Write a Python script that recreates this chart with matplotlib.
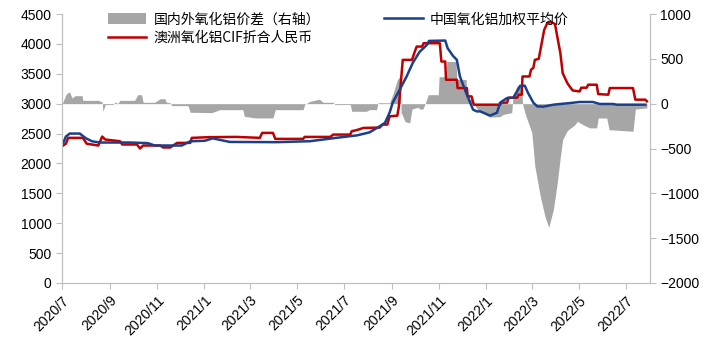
import matplotlib
matplotlib.use("Agg")
import matplotlib.pyplot as plt
import pandas as pd

plt.rcParams['font.family'] = ['Liberation Sans', 'Noto Sans CJK SC', 'DejaVu Sans']

# 中国氧化铝加权平均价 (left axis)
cn_dates = ['2020-07-01', '2020-07-06', '2020-07-11', '2020-07-24', '2020-08-01', '2020-08-09',
            '2020-08-19', '2020-09-27', '2020-10-20', '2020-10-29', '2020-12-03', '2020-12-14',
            '2021-01-02', '2021-01-12', '2021-02-03', '2021-04-05', '2021-05-18', '2021-06-22',
            '2021-07-18', '2021-08-03', '2021-08-16', '2021-08-23', '2021-08-29', '2021-09-02',
            '2021-09-11', '2021-09-20', '2021-09-28', '2021-10-07', '2021-10-16', '2021-10-19',
            '2021-11-09', '2021-11-12', '2021-11-19', '2021-11-24', '2021-11-28', '2021-12-07',
            '2021-12-15', '2021-12-20', '2021-12-24', '2022-01-06', '2022-01-15', '2022-01-19',
            '2022-01-28', '2022-02-05', '2022-02-10', '2022-02-14', '2022-02-20', '2022-02-24',
            '2022-03-03', '2022-03-08', '2022-03-16', '2022-03-29', '2022-04-20', '2022-05-02',
            '2022-05-19', '2022-05-28', '2022-06-14', '2022-06-19', '2022-07-26']
cn_price = [2290, 2450, 2500, 2500, 2420, 2370,
            2350, 2350, 2340, 2300, 2300, 2370,
            2380, 2420, 2360, 2356, 2372, 2430,
            2470, 2520, 2620, 2680, 2850, 3017,
            3233, 3455, 3683, 3870, 3980, 4050,
            4056, 3930, 3800, 3733, 3455, 3150,
            2900, 2870, 2872, 2800, 2850, 3017,
            3094, 3100, 3205, 3300, 3300, 3183,
            3017, 2955, 2950, 2983, 3011, 3028,
            3028, 2995, 2995, 2983, 2983]

# 澳洲氧化铝CIF折合人民币 (left axis)
au_dates = ['2020-07-01', '2020-07-06', '2020-07-09', '2020-07-28', '2020-08-02', '2020-08-17',
            '2020-08-22', '2020-08-26', '2020-09-14', '2020-09-17', '2020-10-06', '2020-10-10',
            '2020-10-14', '2020-11-05', '2020-11-09', '2020-11-18', '2020-11-27', '2020-12-14',
            '2020-12-16', '2021-01-08', '2021-02-12', '2021-03-14', '2021-03-17', '2021-03-31',
            '2021-04-03', '2021-05-09', '2021-05-11', '2021-06-13', '2021-06-17', '2021-07-09',
            '2021-07-11', '2021-07-18', '2021-07-26', '2021-08-16', '2021-08-20', '2021-08-26',
            '2021-08-29', '2021-09-08', '2021-09-10', '2021-09-15', '2021-09-27', '2021-09-30',
            '2021-10-03', '2021-10-10', '2021-10-12', '2021-11-02', '2021-11-04', '2021-11-09',
            '2021-11-10', '2021-11-24', '2021-11-25', '2021-12-07', '2021-12-08', '2021-12-13',
            '2021-12-16', '2022-01-19', '2022-01-21', '2022-01-28', '2022-01-30', '2022-02-10',
            '2022-02-12', '2022-02-16', '2022-02-17', '2022-02-26', '2022-02-28', '2022-03-03',
            '2022-03-05', '2022-03-10', '2022-03-13', '2022-03-17', '2022-03-21', '2022-03-26',
            '2022-03-31', '2022-04-03', '2022-04-07', '2022-04-10', '2022-04-16', '2022-04-20',
            '2022-04-23', '2022-05-02', '2022-05-04', '2022-05-11', '2022-05-13', '2022-05-24',
            '2022-05-26', '2022-06-08', '2022-06-10', '2022-07-10', '2022-07-13', '2022-07-26',
            '2022-07-28']
au_price = [2288, 2330, 2428, 2428, 2330, 2300,
            2450, 2400, 2372, 2317, 2317, 2250,
            2300, 2300, 2267, 2267, 2344, 2344,
            2428, 2440, 2444, 2428, 2511, 2511,
            2411, 2411, 2444, 2444, 2483, 2483,
            2539, 2560, 2594, 2600, 2650, 2650,
            2788, 2800, 2955, 3733, 3733, 3850,
            3955, 3955, 4011, 4011, 3705, 3705,
            3400, 3400, 3261, 3261, 3122, 3122,
            2983, 2983, 3017, 3017, 3100, 3100,
            3150, 3150, 3455, 3455, 3567, 3600,
            3733, 3750, 3955, 4233, 4344, 4367,
            4333, 4122, 3844, 3511, 3344, 3270,
            3220, 3205, 3267, 3267, 3317, 3317,
            3160, 3150, 3261, 3261, 3067, 3067,
            3039]

# 国内外氧化铝价差（右轴）
diff_dates = ['2020-07-01', '2020-07-02', '2020-07-06', '2020-07-09', '2020-07-11', '2020-07-14',
              '2020-07-18', '2020-07-27', '2020-07-28', '2020-08-17', '2020-08-22', '2020-08-23',
              '2020-08-26', '2020-09-05', '2020-09-08', '2020-09-11', '2020-09-14', '2020-10-03',
              '2020-10-07', '2020-10-12', '2020-10-14', '2020-10-29', '2020-11-05', '2020-11-11',
              '2020-11-13', '2020-11-18', '2020-11-20', '2020-12-11', '2020-12-14', '2021-01-11',
              '2021-01-21', '2021-02-20', '2021-02-22', '2021-03-08', '2021-03-31', '2021-04-03',
              '2021-05-09', '2021-05-11', '2021-05-18', '2021-05-30', '2021-06-04', '2021-06-17',
              '2021-06-19', '2021-07-09', '2021-07-11', '2021-07-30', '2021-08-03', '2021-08-12',
              '2021-08-14', '2021-08-29', '2021-09-02', '2021-09-08', '2021-09-11', '2021-09-13',
              '2021-09-18', '2021-09-24', '2021-09-27', '2021-10-05', '2021-10-07', '2021-10-11',
              '2021-10-14', '2021-10-18', '2021-10-31', '2021-11-01', '2021-11-10', '2021-11-11',
              '2021-11-23', '2021-11-24', '2021-12-06', '2021-12-07', '2021-12-13', '2021-12-16',
              '2021-12-21', '2021-12-27', '2022-01-06', '2022-01-19', '2022-01-23', '2022-02-03',
              '2022-02-05', '2022-02-10', '2022-02-16', '2022-02-17', '2022-02-20', '2022-02-24',
              '2022-03-01', '2022-03-05', '2022-03-12', '2022-03-18', '2022-03-23', '2022-03-29',
              '2022-04-03', '2022-04-07', '2022-04-10', '2022-04-16', '2022-04-26', '2022-04-29',
              '2022-05-06', '2022-05-15', '2022-05-24', '2022-05-26', '2022-06-06', '2022-06-09',
              '2022-07-10', '2022-07-13', '2022-07-28']
diff_values = [0, 15, 100, 126, 126, 63,
               89, 89, 37, 37, 20, -85,
               -10, -10, 20, 0, 37, 37,
               100, 100, 15, 15, 55, 55,
               15, 10, -22, -22, -96, -100,
               -67, -67, -141, -159, -159, -67,
               -67, -10, 26, 50, 15, 15,
               -10, -10, -85, -85, -67, -67,
               10, 10, 100, 267, 300, -100,
               -200, -215, -60, -40, -60, -60,
               0, 100, 100, 300, 300, 470,
               470, 270, 270, 50, 50, 0,
               -67, -100, -150, -145, -120, -100,
               100, 200, 200, 0, -100, -200,
               -322, -700, -1033, -1255, -1380, -1178,
               -880, -590, -400, -300, -233, -197,
               -233, -270, -270, -160, -160, -290,
               -308, -60, -48]

tick_months = ['2020-07-01', '2020-09-01', '2020-11-01', '2021-01-01', '2021-03-01', '2021-05-01',
               '2021-07-01', '2021-09-01', '2021-11-01', '2022-01-01', '2022-03-01', '2022-05-01',
               '2022-07-01']
tick_labels = ['2020/7', '2020/9', '2020/11', '2021/1', '2021/3', '2021/5', '2021/7',
               '2021/9', '2021/11', '2022/1', '2022/3', '2022/5', '2022/7']

axis_col = '#BFBFBF'

fig = plt.figure(figsize=(7.09, 3.55), dpi=100)
ax = fig.add_axes([62 / 709, 72 / 355, 588 / 709, 269 / 355])
ax2 = ax.twinx()

ax2.fill_between(pd.to_datetime(diff_dates), 0, diff_values, color='#A6A6A6', lw=0,
                 label='国内外氧化铝价差（右轴）')
ax.plot(pd.to_datetime(au_dates), au_price, color='#C00000', lw=1.8,
        label='澳洲氧化铝CIF折合人民币')
ax.plot(pd.to_datetime(cn_dates), cn_price, color='#1B3F8B', lw=1.8,
        label='中国氧化铝加权平均价')

# lines above the shaded spread
ax.set_zorder(ax2.get_zorder() + 1)
ax.patch.set_visible(False)

ax.set_ylim(0, 4500)
ax.set_yticks(range(0, 4501, 500))
ax2.set_ylim(-2000, 1000)
ax2.set_yticks(range(-2000, 1001, 500))
ax.set_xlim(pd.Timestamp('2020-07-01'), pd.Timestamp('2022-08-01'))
ax.set_xticks(pd.to_datetime(tick_months))
ax.set_xticklabels(tick_labels, rotation=45, ha='right', rotation_mode='anchor')

for a in (ax, ax2):
    a.spines['top'].set_visible(False)
    for s in ('left', 'right', 'bottom'):
        a.spines[s].set_color(axis_col)
    a.tick_params(colors=axis_col, labelcolor='black', labelsize=10, length=4)

h2, l2 = ax2.get_legend_handles_labels()
h1, l1 = ax.get_legend_handles_labels()
fig.legend(h2 + h1, l2 + l1, ncol=2, frameon=False, loc='upper left',
           bbox_to_anchor=(95 / 709, 1.0), handlelength=2.8, handletextpad=0.5,
           handleheight=0.8, columnspacing=4.6, labelspacing=0.3,
           prop={'family': ['Noto Sans CJK SC', 'DejaVu Sans'], 'size': 10})

fig.savefig('out.png', dpi=100)
